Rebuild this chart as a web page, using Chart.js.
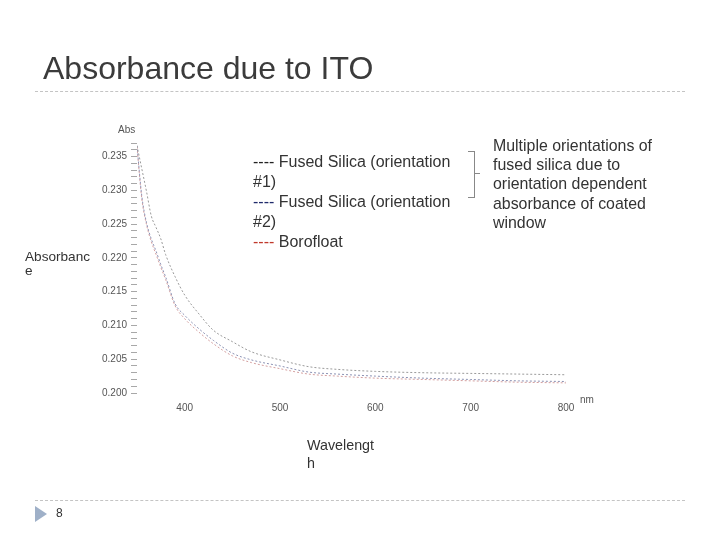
<!DOCTYPE html>
<html>
<head>
<meta charset="utf-8">
<script src="https://cdn.jsdelivr.net/npm/chart.js@4"></script>
<style>
  body { margin: 0; width: 720px; height: 540px; background: #fff; position: relative; overflow: hidden;
         font-family: "Liberation Sans", Arial, sans-serif; color: #333; }
  #chart { position: absolute; left: 0; top: 0; }
  .t { position: absolute; white-space: nowrap; }
  .rule { position: absolute; left: 35px; width: 650px; border-top: 1px dashed #c4c4c4; }
</style>
</head>
<body>
<canvas id="chart" width="720" height="540"></canvas>

<div class="t" style="left:43px; top:50px; font-size:32px; color:#3b3b3b;">Absorbance due to ITO</div>
<div class="rule" style="top:91px;"></div>

<div class="t" style="left:118px; top:124px; font-size:10px; color:#555;">Abs</div>
<div class="t" style="left:580px; top:394px; font-size:10px; color:#555;">nm</div>

<div class="t" style="left:25px; top:250px; font-size:13.6px; line-height:14px;">Absorbanc<br>e</div>
<div class="t" style="left:307px; top:436px; font-size:14.3px; line-height:18px;">Wavelengt<br>h</div>

<div class="t" style="left:253px; top:152px; font-size:16px; line-height:20px;">
  <span style="color:#222">----</span> Fused Silica (orientation<br>#1)<br>
  <span style="color:#1f2a6b">----</span> Fused Silica (orientation<br>#2)<br>
  <span style="color:#c0392b">----</span> Borofloat
</div>

<div style="position:absolute; left:468px; top:151px; width:6px; height:45px; border:1px solid #888; border-left:none;"></div>
<div style="position:absolute; left:475px; top:173px; width:5px; border-top:1px solid #888;"></div>

<div class="t" style="left:493px; top:136px; font-size:15.9px; line-height:19.2px;">
  Multiple orientations of<br>fused silica due to<br>orientation dependent<br>absorbance of coated<br>window
</div>

<div class="rule" style="top:500px;"></div>
<div style="position:absolute; left:35px; top:506px; width:0; height:0; border-top:8px solid transparent; border-bottom:8px solid transparent; border-left:12px solid #9fb0c8;"></div>
<div class="t" style="left:56px; top:506px; font-size:12px;">8</div>

<script>
// wavelength (nm)
const wavelengths = [350, 355, 360, 365, 370, 375, 380, 390, 400, 415, 430, 450, 470, 500, 530, 560, 600, 650, 700, 750, 800];
// absorbance
const fusedSilica1 = [0.2366, 0.2332, 0.2298, 0.2262, 0.2245, 0.2228, 0.2205, 0.2172, 0.2145, 0.2117, 0.2093, 0.2076, 0.2061, 0.2049, 0.2039, 0.2035, 0.2032, 0.2030, 0.2029, 0.2028, 0.2027];
const fusedSilica2 = [0.2366, 0.2292, 0.2252, 0.2228, 0.2210, 0.2190, 0.2172, 0.2132, 0.2115, 0.2095, 0.2078, 0.2059, 0.2049, 0.2040, 0.2031, 0.2028, 0.2025, 0.2022, 0.2020, 0.2018, 0.2017];
const borofloat    = [0.2364, 0.2288, 0.2249, 0.2224, 0.2205, 0.2186, 0.2168, 0.2129, 0.2110, 0.2090, 0.2073, 0.2055, 0.2045, 0.2036, 0.2028, 0.2025, 0.2022, 0.2020, 0.2018, 0.2016, 0.2015];

const seriesNames = ["Fused Silica (orientation #1)", "Fused Silica (orientation #2)", "Borofloat"];
const seriesColors = ["#9a9a9a", "#8c92b4", "#d4a0a0"];

function toPoints(vals) {
  return wavelengths.map((w, i) => ({ x: w, y: vals[i] }));
}

const datasets = [fusedSilica1, fusedSilica2, borofloat].map((vals, i) => ({
  label: seriesNames[i],
  data: toPoints(vals),
  borderColor: seriesColors[i],
  borderWidth: 1,
  borderDash: [2, 2],
  pointRadius: 0,
  cubicInterpolationMode: "monotone",
  fill: false,
}));

new Chart(document.getElementById("chart"), {
  type: "line",
  data: { datasets: datasets },
  options: {
    responsive: false,
    animation: false,
    layout: { padding: { left: 87, right: 154, top: 143, bottom: 117 } },
    plugins: { legend: { display: false }, tooltip: { enabled: false } },
    scales: {
      x: {
        type: "linear",
        min: 350,
        max: 800,
        border: { display: false },
        grid: { display: false, drawTicks: false },
        afterFit: (s) => { s.height = 30; },
        ticks: {
          stepSize: 100,
          padding: 9,
          color: "#555",
          font: { size: 10, family: "Liberation Sans" },
          callback: (v) => (v >= 400 && v % 100 === 0 ? v : ""),
        },
      },
      y: {
        min: 0.2,
        max: 0.237,
        border: { display: false },
        grid: { drawOnChartArea: false, drawTicks: true, tickLength: 6, color: "#a8a8a8" },
        afterFit: (s) => { s.width = 50; },
        ticks: {
          stepSize: 0.001,
          autoSkip: false,
          padding: 4,
          color: "#555",
          font: { size: 10, family: "Liberation Sans" },
          callback: (v) => (Math.round(v * 1000) % 5 === 0 ? v.toFixed(3) : ""),
        },
      },
    },
  },
});
</script>
</body>
</html>
